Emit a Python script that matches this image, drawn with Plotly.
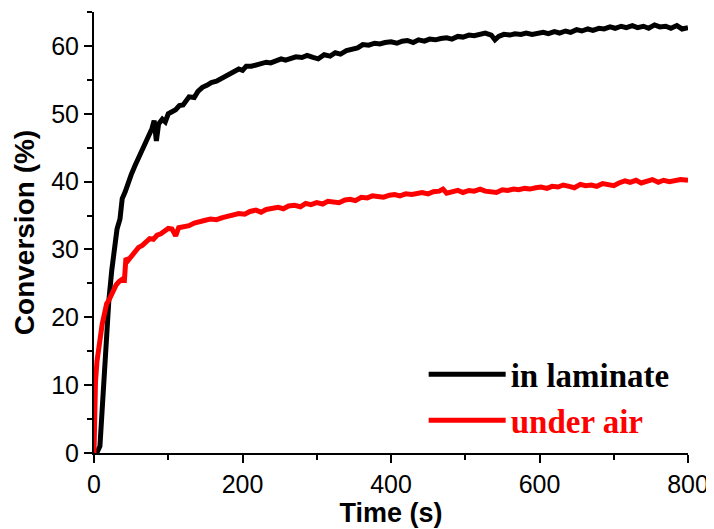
import plotly.graph_objects as go

# in laminate (black)
t_lam = [0, 5, 8, 11, 14, 17, 20, 24, 28, 31, 35, 38, 42, 46, 50, 55, 60, 65, 70, 75, 78, 81, 84, 87, 92, 96,
         100, 105, 110, 115, 120, 128, 135, 140, 146, 152, 158, 165, 173, 180, 188, 195, 200, 205, 212, 218,
         225, 232, 238, 245, 252, 258, 265, 272, 280, 287, 295, 302, 310, 318, 325, 332, 340, 348, 355, 362,
         370, 378, 385, 392, 400, 408, 415, 422, 430, 437, 445, 452, 460, 467, 475, 482, 490, 497, 505, 512,
         520, 527, 535, 540, 545, 552, 560, 567, 575, 582, 590, 597, 605, 612, 620, 627, 635, 642, 650, 657,
         665, 672, 680, 687, 695, 702, 710, 717, 725, 732, 740, 747, 755, 762, 770, 777, 785, 792, 800]
c_lam = [0, 0.3, 1.0, 6.0, 13.0, 18.5, 22.5, 27.0, 30.5, 33.0, 34.5, 37.5, 38.5, 40.0, 41.0, 42.3, 43.5, 44.6,
         45.5, 46.8, 47.8, 49.0, 46.0, 48.5, 49.2, 48.8, 50.0, 50.3, 50.6, 51.2, 51.3, 52.5, 52.4, 53.3, 53.9,
         54.2, 54.6, 54.8, 55.3, 55.6, 56.2, 56.6, 56.4, 57.0, 57.0, 57.2, 57.4, 57.6, 57.5, 57.9, 58.1, 57.9,
         58.2, 58.4, 58.3, 58.6, 58.3, 58.1, 58.7, 58.5, 59.0, 58.8, 59.3, 59.5, 59.7, 60.2, 60.1, 60.4, 60.3,
         60.5, 60.6, 60.4, 60.7, 60.8, 60.5, 60.9, 60.7, 61.0, 60.9, 61.1, 61.2, 61.0, 61.4, 61.3, 61.6, 61.5,
         61.7, 61.9, 61.6, 60.9, 61.4, 61.7, 61.6, 61.8, 61.7, 61.9, 61.7, 61.8, 62.0, 61.8, 62.1, 61.9, 62.2,
         62.0, 62.4, 62.2, 62.5, 62.3, 62.6, 62.5, 62.8, 62.6, 62.9, 62.7, 63.0, 62.7, 62.9, 62.6, 63.1, 62.8,
         62.9, 62.6, 63.0, 62.5, 62.7]

# under air (red)
t_air = [0, 1, 2, 4, 6, 8, 11, 14, 17, 20, 23, 26, 30, 34, 38, 41, 43, 46, 50, 55, 60, 65, 70, 75, 80, 85, 90,
         95, 100, 105, 110, 114, 120, 128, 135, 142, 150, 157, 165, 173, 180, 188, 195, 203, 210, 218, 225, 232,
         240, 248, 255, 262, 270, 278, 285, 292, 300, 308, 315, 322, 330, 338, 345, 352, 360, 368, 375, 382, 390,
         398, 405, 412, 420, 428, 435, 442, 450, 457, 465, 470, 475, 482, 490, 497, 505, 512, 520, 527, 535, 542,
         550, 557, 565, 572, 580, 587, 595, 602, 610, 617, 625, 632, 640, 647, 655, 662, 670, 677, 685, 692, 700,
         707, 715, 722, 730, 737, 745, 752, 760, 767, 775, 782, 790, 800]
c_air = [0, 6.0, 10.5, 13.5, 15.5, 17.0, 19.0, 20.5, 22.0, 22.5, 23.2, 24.0, 24.8, 25.3, 25.6, 25.5, 28.7, 28.4,
         28.9, 29.8, 30.3, 30.6, 31.0, 31.6, 31.5, 32.1, 32.3, 32.8, 33.1, 33.0, 32.0, 33.2, 33.3, 33.5, 33.9,
         34.0, 34.3, 34.5, 34.4, 34.7, 34.9, 35.1, 35.3, 35.2, 35.6, 35.8, 35.5, 35.9, 36.0, 36.2, 36.0, 36.4,
         36.5, 36.3, 36.8, 36.6, 36.9, 36.7, 37.1, 37.0, 36.9, 37.3, 37.4, 37.2, 37.7, 37.6, 37.9, 37.8, 37.7,
         38.0, 38.1, 37.9, 38.2, 38.1, 38.3, 38.4, 38.2, 38.5, 38.6, 38.9, 38.3, 38.5, 38.7, 38.4, 38.7, 38.6,
         38.9, 38.6, 38.5, 38.4, 38.8, 38.7, 38.9, 38.8, 39.0, 38.9, 39.1, 39.2, 39.0, 39.3, 39.2, 39.5, 39.3,
         39.1, 39.6, 39.4, 39.5, 39.3, 39.7, 39.6, 39.4, 39.8, 40.1, 39.9, 40.2, 39.8, 40.1, 40.3, 39.9, 40.2,
         40.0, 40.1, 40.3, 40.2]

fig = go.Figure()
fig.add_trace(go.Scatter(x=t_lam, y=c_lam, mode="lines", name="in laminate",
                         line=dict(color="black", width=5)))
fig.add_trace(go.Scatter(x=t_air, y=c_air, mode="lines",
                         name="<span style='color:red'>under air</span>",
                         line=dict(color="red", width=5)))

axis_common = dict(showline=True, linecolor="black", linewidth=2, ticks="outside", ticklen=8,
                   tickwidth=2, tickcolor="black", showgrid=False, zeroline=False, mirror=False,
                   automargin=False,
                   tickfont=dict(family="Liberation Sans, Arial", size=25, color="black"))

fig.update_xaxes(range=[0, 800], dtick=200, tick0=0,
                 minor=dict(ticks="outside", ticklen=5, tickwidth=2, tickcolor="black", dtick=100),
                 title=dict(text="<b>Time (s)</b>", standoff=0,
                            font=dict(family="Liberation Sans, Arial", size=27, color="black")),
                 **axis_common)
fig.update_yaxes(range=[0, 65], dtick=10, tick0=0,
                 minor=dict(ticks="outside", ticklen=5, tickwidth=2, tickcolor="black", dtick=5),
                 title=dict(text="<b>Conversion (%)</b>", standoff=8,
                            font=dict(family="Liberation Sans, Arial", size=28, color="black")),
                 **axis_common)

# the page body adds an 8px margin, so the figure is sized to fit the 714x529 window
fig.update_layout(
    width=706, height=521,
    margin=dict(l=86, r=26, t=4, b=76, autoexpand=False),
    plot_bgcolor="white", paper_bgcolor="white",
    showlegend=True,
    legend=dict(x=0.555, y=0.242, xanchor="left", yanchor="top", bgcolor="rgba(0,0,0,0)",
                itemwidth=77, tracegroupgap=0,
                font=dict(family="Liberation Serif, Times New Roman", size=33, color="black", weight="bold")),
)

fig.write_html("out.html")
